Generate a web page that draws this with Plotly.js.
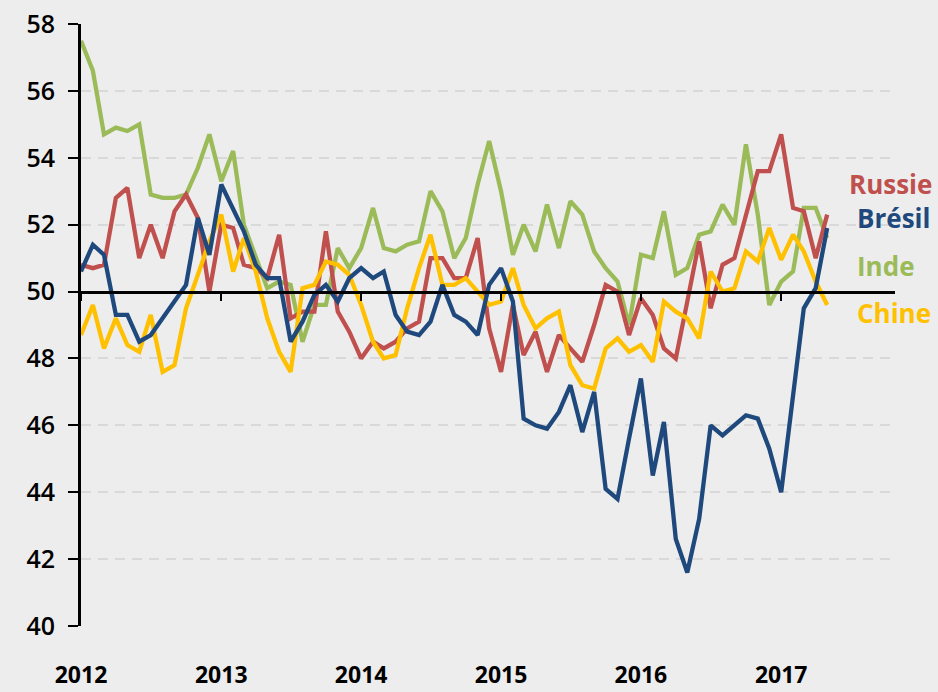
<!DOCTYPE html>
<html>
<head>
<meta charset="utf-8">
<script src="https://cdn.plot.ly/plotly-3.0.1.min.js"></script>
<style>
html,body{margin:0;padding:0;background:#ededed;}
#chart{width:938px;height:692px;}
</style>
</head>
<body>
<div id="chart"></div>
<script>
// Monthly PMI, Jan 2012 – May 2017
var years = [2012, 2013, 2014, 2015, 2016, 2017];
var yearLabels = ['2012', '2013', '2014', '2015', '2016', '2017'];

var russie = [
  50.8, 50.7, 50.8, 52.8, 53.1, 51.0, 52.0, 51.0, 52.4, 52.9, 52.2, 50.0,
  52.0, 51.9, 50.8, 50.7, 50.4, 51.7, 49.2, 49.4, 49.4, 51.8, 49.4, 48.8,
  48.0, 48.5, 48.3, 48.5, 48.9, 49.1, 51.0, 51.0, 50.4, 50.4, 51.6, 48.9,
  47.6, 49.6, 48.1, 48.8, 47.6, 48.7, 48.3, 47.9, 49.0, 50.2, 50.0, 48.7,
  49.8, 49.3, 48.3, 48.0, 49.7, 51.5, 49.5, 50.8, 51.0, 52.3, 53.6, 53.6,
  54.7, 52.5, 52.4, 51.0, 52.3
];
var bresil = [
  50.6, 51.4, 51.1, 49.3, 49.3, 48.5, 48.7, 49.2, 49.7, 50.2, 52.2, 51.1,
  53.2, 52.5, 51.8, 50.8, 50.4, 50.4, 48.5, 49.1, 49.9, 50.2, 49.7, 50.4,
  50.7, 50.4, 50.6, 49.3, 48.8, 48.7, 49.1, 50.2, 49.3, 49.1, 48.7, 50.2,
  50.7, 49.7, 46.2, 46.0, 45.9, 46.4, 47.2, 45.8, 47.0, 44.1, 43.8, 45.6,
  47.4, 44.5, 46.1, 42.6, 41.6, 43.2, 46.0, 45.7, 46.0, 46.3, 46.2, 45.3,
  44.0, 46.8, 49.5, 50.1, 51.9
];
var inde = [
  57.5, 56.6, 54.7, 54.9, 54.8, 55.0, 52.9, 52.8, 52.8, 52.9, 53.7, 54.7,
  53.3, 54.2, 52.0, 51.0, 50.1, 50.3, 50.2, 48.5, 49.6, 49.6, 51.3, 50.7,
  51.3, 52.5, 51.3, 51.2, 51.4, 51.5, 53.0, 52.4, 51.0, 51.6, 53.2, 54.5,
  53.0, 51.1, 52.0, 51.2, 52.6, 51.3, 52.7, 52.3, 51.2, 50.7, 50.3, 49.0,
  51.1, 51.0, 52.4, 50.5, 50.7, 51.7, 51.8, 52.6, 52.0, 54.4, 52.3, 49.6,
  50.3, 50.6, 52.5, 52.5, 51.6
];
var chine = [
  48.7, 49.6, 48.3, 49.2, 48.4, 48.2, 49.3, 47.6, 47.8, 49.5, 50.5, 51.5,
  52.3, 50.6, 51.6, 50.6, 49.2, 48.2, 47.6, 50.1, 50.2, 50.9, 50.8, 50.5,
  49.6, 48.5, 48.0, 48.1, 49.5, 50.7, 51.7, 50.2, 50.2, 50.4, 50.0, 49.6,
  49.7, 50.7, 49.6, 48.9, 49.2, 49.4, 47.8, 47.2, 47.1, 48.3, 48.6, 48.2,
  48.4, 47.9, 49.7, 49.4, 49.2, 48.6, 50.6, 50.0, 50.1, 51.2, 50.9, 51.9,
  50.95, 51.7, 51.2, 50.3, 49.6
];
var seriesNames = ['Russie', 'Brésil', 'Inde', 'Chine'];
var yTicks = [40, 42, 44, 46, 48, 50, 52, 54, 56, 58];

// month dates for categories
var months = [];
for (var i = 0; i < russie.length; i++) {
  var y = 2012 + Math.floor(i / 12), m = (i % 12) + 1;
  months.push(y + '-' + (m < 10 ? '0' + m : m) + '-01');
}
var yearTickVals = years.map(function (y) { return y + '-01-01'; });

var colors = ['#C0504D', '#1F497D', '#9BBB59', '#FFC000'];
var allSeries = [russie, bresil, inde, chine];
var order = [2, 0, 3, 1];
var traces = order.map(function (k) {
  return {
    x: months, y: allSeries[k], type: 'scatter', mode: 'lines', name: seriesNames[k],
    line: {color: colors[k], width: 4.3}, showlegend: false, hoverinfo: 'skip'
  };
});
// invisible trace so the 50-line axis (x2) is drawn
traces.unshift({x: months, y: russie, xaxis: 'x2', yaxis: 'y', type: 'scatter',
  mode: 'lines', line: {width: 0}, opacity: 0, showlegend: false, hoverinfo: 'skip'});

var font = 'Open Sans, Lato, sans-serif';
var legendPos = [
  {x: 0.941, y: 0.734}, {x: 0.951, y: 0.678}, {x: 0.951, y: 0.598}, {x: 0.951, y: 0.520}
];
var annotations = seriesNames.map(function (n, k) {
  return {text: '<b>' + n + '</b>', xref: 'paper', yref: 'paper', x: legendPos[k].x, y: legendPos[k].y,
    xanchor: 'left', yanchor: 'middle', showarrow: false,
    font: {family: font, size: 26, color: colors[k]}};
});

var layout = {
  width: 938, height: 692,
  paper_bgcolor: '#ededed', plot_bgcolor: '#ededed',
  margin: {l: 81, r: 43, t: 24, b: 66},
  showlegend: false,
  xaxis: {
    type: 'date', range: ['2012-01-01', '2017-10-25'],
    tickmode: 'array', tickvals: yearTickVals, ticktext: yearLabels,
    showgrid: false, zeroline: false, showline: false,
    ticks: '', ticklabelstandoff: 33,
    tickfont: {family: font, size: 23, color: '#000', weight: 'bold'}
  },
  xaxis2: {
    type: 'date', matches: 'x', overlaying: 'x', anchor: 'free', position: (50 - 40) / 18,
    tickmode: 'array', tickvals: yearTickVals, showticklabels: false,
    showgrid: false, zeroline: false, showline: true, linecolor: '#000', linewidth: 3,
    ticks: 'outside', ticklen: 7, tickwidth: 2, tickcolor: '#000'
  },
  yaxis: {
    range: [40, 58], tickmode: 'array', tickvals: yTicks,
    showgrid: true, gridcolor: '#d9d9d9', gridwidth: 2, griddash: '10px,7px',
    zeroline: false, showline: true, linecolor: '#000', linewidth: 3,
    ticks: 'outside', ticklen: 10, tickwidth: 2, tickcolor: '#000',
    ticklabelstandoff: 8,
    tickfont: {family: font, size: 25, color: '#000', weight: 600}
  },
  annotations: annotations
};

Plotly.newPlot('chart', traces, layout, {displayModeBar: false, staticPlot: true});
</script>
</body>
</html>
